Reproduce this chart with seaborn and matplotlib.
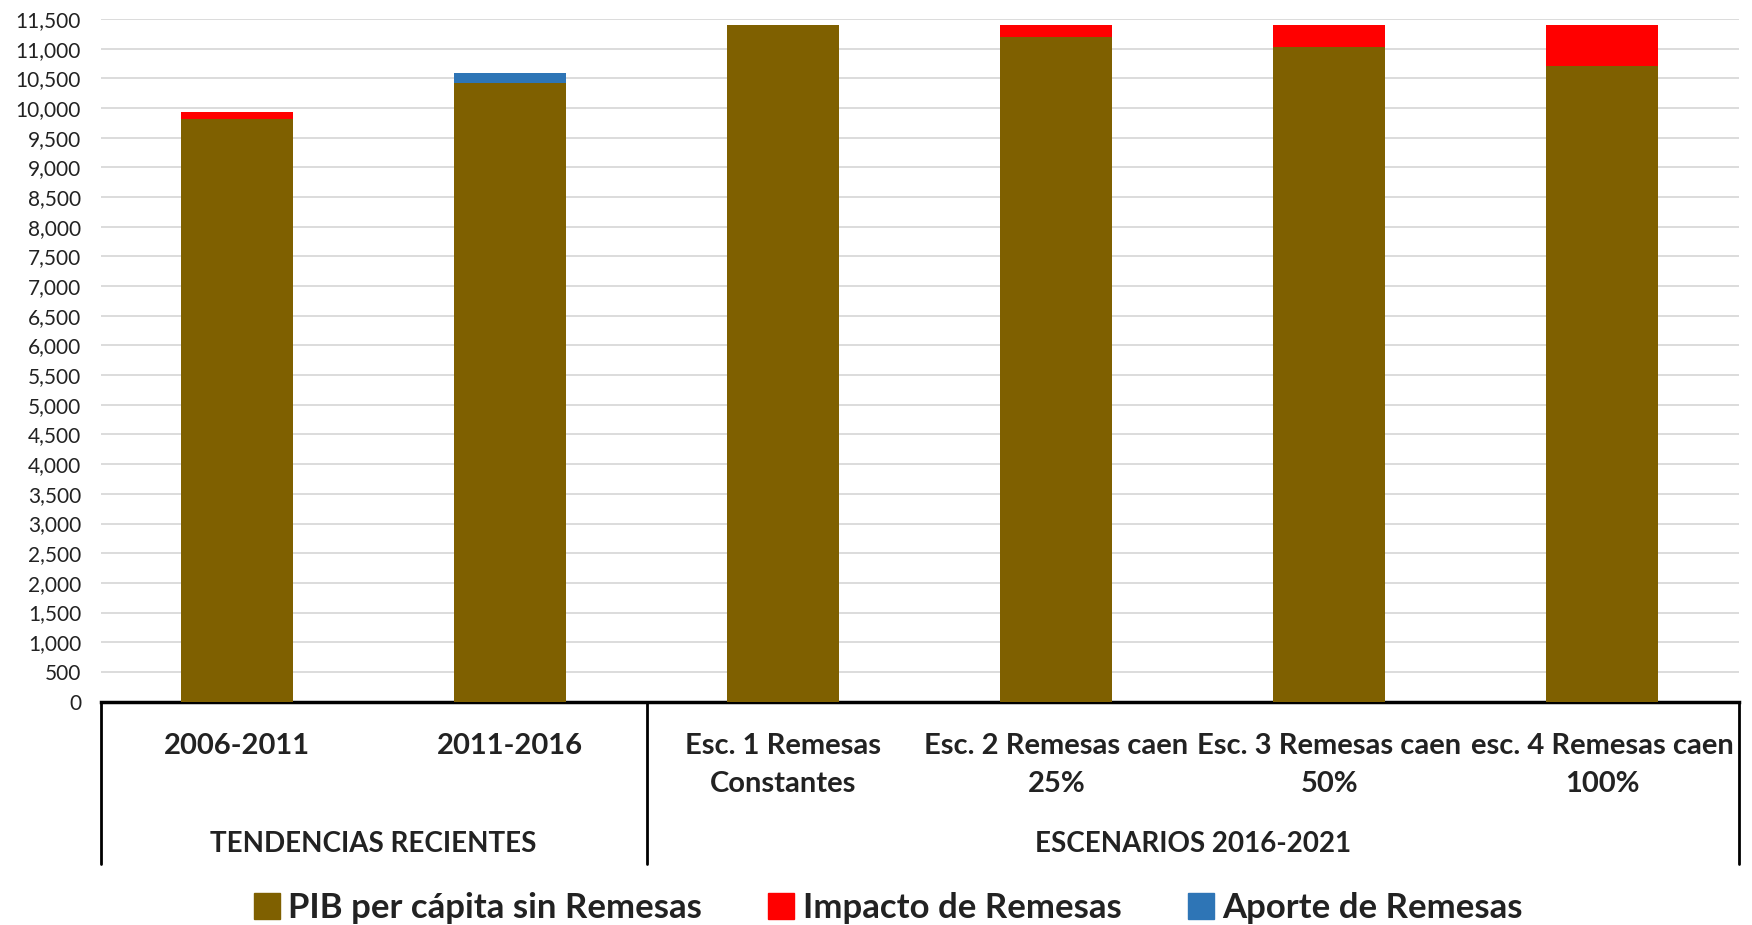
import numpy as np
import pandas as pd
import matplotlib
matplotlib.use('Agg')
import matplotlib.pyplot as plt
import matplotlib.transforms as mtransforms
from matplotlib.patches import Patch
import seaborn as sns

# datos
categorias = ['2006-2011', '2011-2016', 'Esc. 1 Remesas\nConstantes',
              'Esc. 2 Remesas caen\n25%', 'Esc. 3 Remesas caen\n50%',
              'esc. 4 Remesas caen\n100%']
pib_sin_remesas = [9810, 10415, 11400, 11190, 11035, 10710]
impacto_remesas = [120, 0, 0, 210, 365, 690]
aporte_remesas = [0, 170, 0, 0, 0, 0]
grupos = ['TENDENCIAS RECIENTES', 'ESCENARIOS 2016-2021']
grupo_n = [2, 4]
yticks = np.arange(0, 11501, 500)

c_pib = '#7F6000'
c_imp = '#FF0000'
c_apo = '#2E75B6'

sns.set_theme(style='white')
plt.rcParams['font.family'] = ['Lato', 'DejaVu Sans']

W, H = 1752, 925
fig = plt.figure(figsize=(W / 100, H / 100), dpi=100)
ax = fig.add_axes([100.5 / W, 1 - 701.6 / H, (1739 - 100.5) / W, (701.6 - 19) / H])

df = pd.DataFrame({'cat': categorias, 'pib': pib_sin_remesas,
                   'imp': impacto_remesas, 'apo': aporte_remesas})
x = np.arange(len(df))
sns.barplot(data=df, x='cat', y='pib', color=c_pib, width=0.41,
            saturation=1, linewidth=0, ax=ax, zorder=3)
ax.bar(x, df['imp'], bottom=df['pib'], width=0.41, color=c_imp, linewidth=0, zorder=3)
ax.bar(x, df['apo'], bottom=df['pib'] + df['imp'], width=0.41, color=c_apo,
       linewidth=0, zorder=3)

ax.set_xlim(-0.5, len(df) - 0.5)
ax.set_ylim(0, 11500)
ax.set_yticks(yticks)
ax.set_yticklabels([f'{v:,}' for v in yticks], fontsize=15, color='#222222')
ax.tick_params(axis='y', length=0, pad=14)
ax.yaxis.grid(True, color='#D9D9D9', linewidth=1.3, zorder=0)
ax.set_xticks([])
ax.set_xlabel('')
ax.set_ylabel('')
for s in ['left', 'right', 'top']:
    ax.spines[s].set_visible(False)
ax.spines['bottom'].set_color('black')
ax.spines['bottom'].set_linewidth(2.5)

# etiquetas de categorias y grupos debajo del eje
tr = mtransforms.blended_transform_factory(ax.transData, fig.transFigure)
for i, lab in enumerate(categorias):
    lines = lab.split('\n')
    for j, ln in enumerate(lines):
        ax.text(i, 1 - (745.5 + 38 * j) / H, ln, transform=tr, ha='center',
                va='center', fontsize=21, fontweight='bold', color='#222222')

start = -0.5
seps = [start]
for g, n in zip(grupos, grupo_n):
    ax.text(start + n / 2, 1 - 844 / H, g, transform=tr, ha='center',
            va='center', fontsize=20, fontweight='bold', color='#222222')
    start += n
    seps.append(start)
for sx in seps:
    ax.plot([sx, sx], [1 - 701.6 / H, 1 - 864 / H], transform=tr,
            color='black', linewidth=2, clip_on=False)

handles = [Patch(color=c_pib, label='PIB per cápita sin Remesas'),
           Patch(color=c_imp, label='Impacto de Remesas'),
           Patch(color=c_apo, label='Aporte de Remesas')]
leg = fig.legend(handles=handles, loc='center', bbox_to_anchor=(0.507, 1 - 908 / H),
                 ncol=3, frameon=False, handlelength=0.75, handleheight=0.75,
                 handletextpad=0.25, columnspacing=1.9,
                 prop={'size': 25, 'weight': 'bold'})
for t in leg.get_texts():
    t.set_color('#222222')

fig.savefig('out.png', dpi=100)
